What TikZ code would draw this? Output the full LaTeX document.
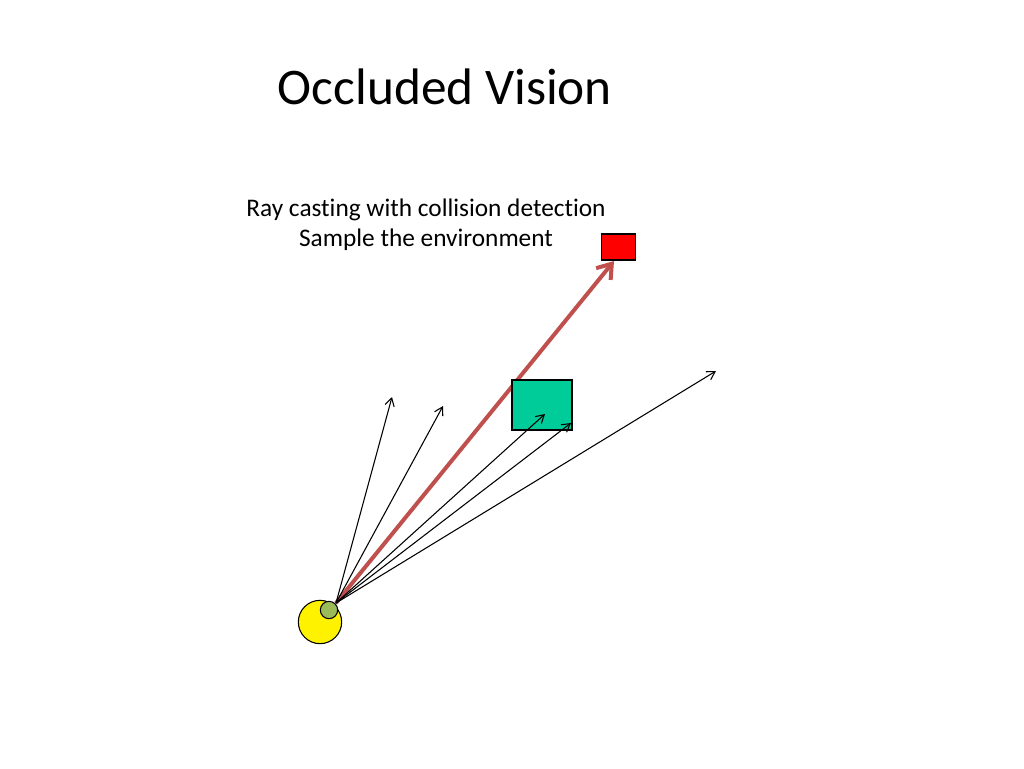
\documentclass[tikz,border=0pt]{standalone}
\usepackage{fontspec}
\setmainfont[Ligatures=NoCommon]{Carlito}
\usetikzlibrary{arrows.meta}
\definecolor{obst}{RGB}{0,204,153}
\definecolor{rayred}{RGB}{192,80,77}
\definecolor{eyegreen}{RGB}{155,187,89}
\begin{document}
\begin{tikzpicture}[x=0.75pt,y=-0.75pt,
  ray/.style={draw=black,line width=0.8pt,-{Straight Barb[length=6pt,width=7pt]}},
  hit/.style={draw=rayred,line width=3pt,-{Straight Barb[length=10pt,width=14pt,line width=3pt]}},
  lbl/.style={inner sep=0pt,font=\fontsize{19pt}{23pt}\selectfont,align=center}]
\useasboundingbox (0,0) rectangle (1024,768);
\node[anchor=base,inner sep=0pt,font=\fontsize{38.5pt}{46pt}\selectfont] (title) at (445,104) {Occluded Vision};
\node[anchor=base,lbl] (l1) at (426,216) {Ray casting with collision detection};
\node[anchor=base,lbl] (l2) at (426,246) {Sample the environment};
\node[draw=black,fill=yellow,circle,minimum size=32.5pt,inner sep=0pt,line width=0.8pt] (body) at (320,622) {};
\node[draw=black,fill=eyegreen,circle,minimum size=13pt,inner sep=0pt,line width=0.8pt] (eye) at (329,610) {};
\coordinate (o) at (336,603);
\coordinate (t1) at (392,397);
\coordinate (t2) at (443,406);
\coordinate (t3) at (545,414);
\coordinate (t4) at (571,423);
\coordinate (t5) at (716,371);
\node[draw=black,fill=red,minimum width=26pt,minimum height=19.5pt,inner sep=0pt,line width=0.8pt] (target) at (618.5,247) {};
\coordinate (aim) at (614,261);
\draw[hit] (o) -- (aim);
\node[draw=black,fill=obst,minimum width=45pt,minimum height=37.5pt,inner sep=0pt,line width=0.8pt] (wall) at (542,405) {};
\draw[ray] (o) -- (t1);
\draw[ray] (o) -- (t2);
\draw[ray] (o) -- (t3);
\draw[ray] (o) -- (t4);
\draw[ray] (o) -- (t5);
\end{tikzpicture}
\end{document}
